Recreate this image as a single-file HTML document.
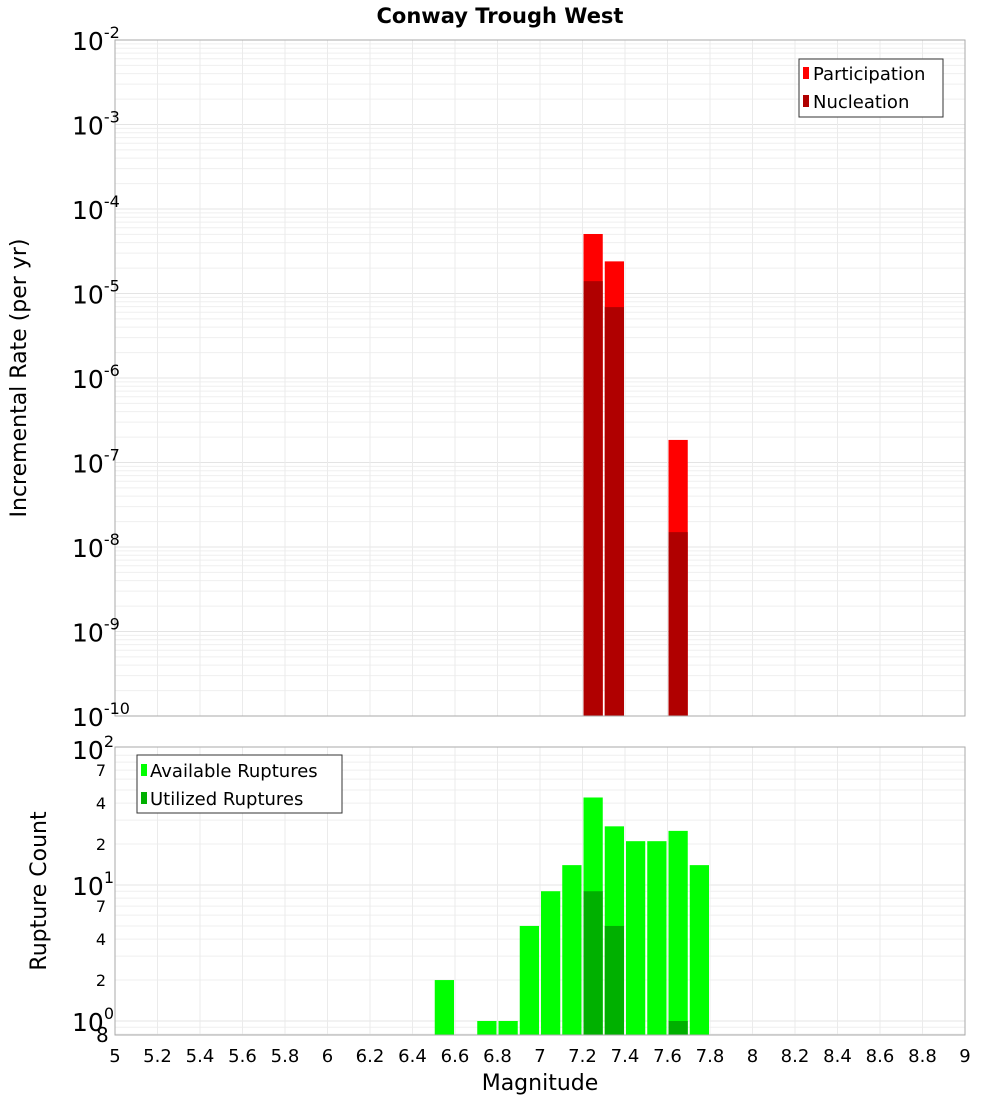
<!DOCTYPE html>
<html><head><meta charset="utf-8"><style>body{margin:0;background:#fff}svg{display:block;font-family:"DejaVu Sans","Liberation Sans",sans-serif}</style></head>
<body>
<svg id="c" width="1000" height="1100"></svg>
<script>
const xTicks=[5,5.2,5.4,5.6,5.8,6,6.2,6.4,6.6,6.8,7,7.2,7.4,7.6,7.8,8,8.2,8.4,8.6,8.8,9];
const rateMags=[7.25,7.35,7.65];
const participation=[5.06e-5,2.4e-5,1.85e-7];
const nucleation=[1.4e-5,6.9e-6,1.5e-8];
const countMags=[6.55,6.75,6.85,6.95,7.05,7.15,7.25,7.35,7.45,7.55,7.65,7.75];
const available=[2,1,1,5,9,14,44,27,21,21,25,14];
const utilMags=[7.25,7.35,7.65];
const utilized=[9,5,1];
const topExps=[-2,-3,-4,-5,-6,-7,-8,-9,-10];
const botExps=[0,1,2];
const botMinor=[2,4,7];

const svg=document.getElementById('c');const NS='http://www.w3.org/2000/svg';
function el(t,a,p){const e=document.createElementNS(NS,t);for(const k in a)e.setAttribute(k,a[k]);(p||svg).appendChild(e);return e;}
const L=115,R=965;
const X=v=>L+(v-5)*(R-L)/4;
const T1=40,B1=716;
const Y1=v=>T1+(-2-Math.log10(v))*(B1-T1)/8;
const T2=747,B2=1035;
const Y2=v=>1021-136*Math.log10(v);

let t=el('text',{x:500,y:23,'text-anchor':'middle','font-size':21,'font-weight':'bold'});t.textContent='Conway Trough West';


let g=el('g',{});
el('rect',{x:L,y:T1,width:R-L,height:B1-T1,fill:'#fff'},g);
for(let e=-10;e<-2;e++)for(let m=1;m<10;m++){const y=Y1(m*Math.pow(10,e));el('line',{x1:L,x2:R,y1:y,y2:y,stroke:m==1?'#e4e4e4':'#efefef','stroke-width':1},g);}
xTicks.forEach(v=>el('line',{x1:X(v),x2:X(v),y1:T1,y2:B1,stroke:'#ebebeb'},g));
rateMags.forEach((m,i)=>{
 let r=el('rect',{x:X(m-0.05)+1,y:Y1(participation[i]),width:X(m+0.05)-X(m-0.05)-2,height:B1-Y1(participation[i]),fill:'#ff0000'},g);
 
 r=el('rect',{x:X(m-0.05)+1,y:Y1(nucleation[i]),width:X(m+0.05)-X(m-0.05)-2,height:B1-Y1(nucleation[i]),fill:'#b00000'},g);
 
});
el('rect',{x:L,y:T1,width:R-L,height:B1-T1,fill:'none',stroke:'#aaa'},g);
topExps.forEach(e=>{const y=Y1(Math.pow(10,e));
 let tx=el('text',{x:72,y:y+10,'font-size':25},g);tx.textContent='10';
 let s=el('tspan',{dy:-12,'font-size':16},tx);s.textContent=String(e);
});
t=el('text',{transform:'translate(26,378) rotate(-90)','text-anchor':'middle','font-size':22});t.textContent='Incremental Rate (per yr)';

let lg=el('g',{});
el('rect',{x:799,y:59,width:144,height:58,fill:'#fff',stroke:'#333'},lg);
el('rect',{x:803,y:67,width:6,height:12,fill:'#ff0000'},lg);
el('rect',{x:803,y:95,width:6,height:12,fill:'#b00000'},lg);
t=el('text',{x:813,y:80,'font-size':18},lg);t.textContent='Participation';
t=el('text',{x:813,y:108,'font-size':18},lg);t.textContent='Nucleation';

g=el('g',{});
for(let e=-1;e<2;e++)for(let m=1;m<10;m++){const y=Y2(m*Math.pow(10,e));if(y<T2||y>B2)continue;el('line',{x1:L,x2:R,y1:y,y2:y,stroke:m==1?'#e4e4e4':'#efefef'},g);}
xTicks.forEach(v=>el('line',{x1:X(v),x2:X(v),y1:T2,y2:B2,stroke:'#ebebeb'},g));
countMags.forEach((m,i)=>{
 let r=el('rect',{x:X(m-0.05)+1,y:Y2(available[i]),width:X(m+0.05)-X(m-0.05)-2,height:B2-Y2(available[i]),fill:'#00ff00'},g);
 
});
utilMags.forEach((m,i)=>{
 let r=el('rect',{x:X(m-0.05)+1,y:Y2(utilized[i]),width:X(m+0.05)-X(m-0.05)-2,height:B2-Y2(utilized[i]),fill:'#00b000'},g);
 
});
el('rect',{x:L,y:T2,width:R-L,height:B2-T2,fill:'none',stroke:'#aaa'},g);
botExps.forEach(e=>{const y=Y2(Math.pow(10,e));
 let tx=el('text',{x:72,y:y+10,'font-size':25},g);tx.textContent='10';
 let s=el('tspan',{dy:-12,'font-size':16},tx);s.textContent=String(e);
 if(e<2)botMinor.forEach(m=>{let q=el('text',{x:106,y:Y2(m*Math.pow(10,e))+6,'text-anchor':'end','font-size':16},g);q.textContent=String(m);});
});
t=el('text',{x:96,y:1042,'font-size':20},g);t.textContent='8';
t=el('text',{transform:'translate(46,891) rotate(-90)','text-anchor':'middle','font-size':22});t.textContent='Rupture Count';

lg=el('g',{});
el('rect',{x:137,y:755,width:205,height:58,fill:'#fff',stroke:'#333'},lg);
el('rect',{x:141,y:764,width:6,height:12,fill:'#00ff00'},lg);
el('rect',{x:141,y:792,width:6,height:12,fill:'#00b000'},lg);
t=el('text',{x:150,y:777,'font-size':18},lg);t.textContent='Available Ruptures';
t=el('text',{x:150,y:805,'font-size':18},lg);t.textContent='Utilized Ruptures';

xTicks.forEach(v=>{let q=el('text',{x:X(v),y:1062,'text-anchor':'middle','font-size':18});q.textContent=String(v);
 });
t=el('text',{x:540,y:1090,'text-anchor':'middle','font-size':22});t.textContent='Magnitude';

</script>
</body></html>
